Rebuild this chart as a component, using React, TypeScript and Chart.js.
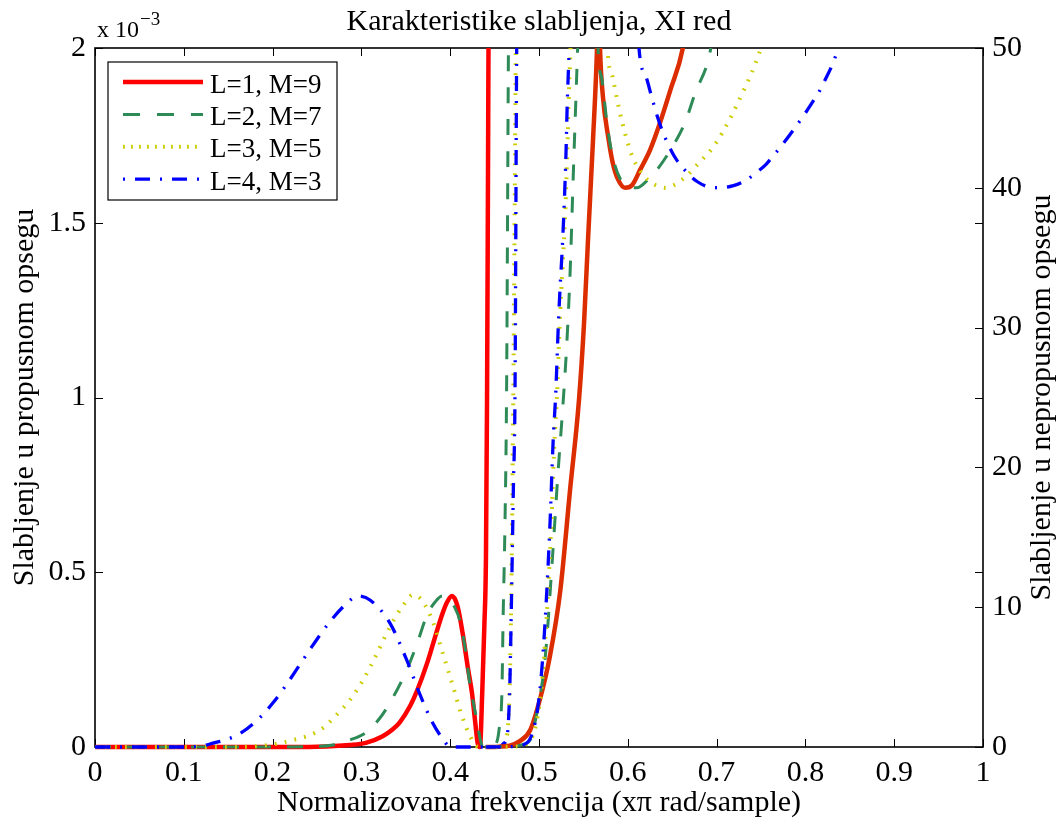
import React, { useEffect, useRef } from 'react';
import { Chart, registerables } from 'chart.js';

Chart.register(...registerables);

const FONT = '"Liberation Serif", "Times New Roman", Times, serif';

// ---- texts ----
const chartTitle = 'Karakteristike slabljenja, XI red';
const xTitle = 'Normalizovana frekvencija (x\u03c0 rad/sample)';
const yLeftTitle = 'Slabljenje u propusnom opsegu';
const yRightTitle = 'Slabljenje u nepropusnom opsegu';
const seriesLabels = ['L=1, M=9', 'L=2, M=7', 'L=3, M=5', 'L=4, M=3'];

// ---- ticks ----
const xTicks = [0, 0.1, 0.2, 0.3, 0.4, 0.5, 0.6, 0.7, 0.8, 0.9, 1];
const leftTicks = [0, 0.5, 1, 1.5, 2]; // x 10^-3
const rightTicks = [0, 10, 20, 30, 40, 50];

// ---- passband attenuation (x 10^-3), left axis ----
const redPassX = [0, 0.1, 0.2, 0.25, 0.287, 0.305, 0.324, 0.335, 0.343, 0.355, 0.363, 0.374, 0.381, 0.39, 0.396, 0.402, 0.408, 0.414, 0.42, 0.4245, 0.428, 0.431, 0.4335, 0.436, 0.4385, 0.4403, 0.4415, 0.4425, 0.4432, 0.445];
const redPassY = [0, 0, 0, 0.001, 0.006, 0.012, 0.031, 0.05, 0.07, 0.118, 0.163, 0.24, 0.298, 0.372, 0.412, 0.432, 0.405, 0.326, 0.225, 0.155, 0.075, 0.01, 0, 0.15, 0.35, 0.55, 1.0, 1.6, 2.05, 3];

const greenPassX = [0, 0.1, 0.2, 0.24, 0.268, 0.287, 0.306, 0.32, 0.332, 0.351, 0.363, 0.374, 0.383, 0.391, 0.398, 0.405, 0.411, 0.417, 0.422, 0.43, 0.434, 0.437, 0.45, 0.455, 0.4583, 0.4595, 0.4617, 0.4635, 0.4655, 0.467];
const greenPassY = [0, 0, 0, 0.001, 0.006, 0.02, 0.043, 0.08, 0.126, 0.22, 0.298, 0.378, 0.415, 0.432, 0.425, 0.4, 0.36, 0.28, 0.183, 0.077, 0.02, 0, 0.005, 0.049, 0.163, 0.355, 0.641, 1.02, 1.97, 2.6];

const yellowPassX = [0, 0.1, 0.15, 0.19, 0.208, 0.223, 0.239, 0.257, 0.272, 0.287, 0.302, 0.318, 0.332, 0.347, 0.358, 0.368, 0.381, 0.392, 0.403, 0.413, 0.426, 0.432, 0.458, 0.463, 0.466, 0.468, 0.4695, 0.471, 0.4725, 0.474, 0.476];
const yellowPassY = [0, 0, 0, 0.004, 0.011, 0.02, 0.031, 0.055, 0.092, 0.134, 0.192, 0.27, 0.343, 0.405, 0.435, 0.42, 0.355, 0.265, 0.175, 0.09, 0.014, 0, 0, 0.02, 0.1, 0.3, 0.6, 1.0, 1.5, 2.05, 2.6];

const bluePassX = [0, 0.1, 0.12, 0.133, 0.149, 0.163, 0.186, 0.2, 0.216, 0.231, 0.245, 0.265, 0.284, 0.296, 0.31, 0.332, 0.351, 0.366, 0.38, 0.392, 0.4, 0.456, 0.46, 0.464, 0.467, 0.4692, 0.4711, 0.473, 0.4748, 0.477];
const bluePassY = [0, 0, 0.003, 0.011, 0.022, 0.038, 0.085, 0.125, 0.18, 0.237, 0.29, 0.36, 0.412, 0.432, 0.42, 0.355, 0.249, 0.15, 0.07, 0.022, 0, 0, 0.01, 0.029, 0.163, 0.449, 0.735, 1.02, 1.97, 2.6];

// ---- stopband attenuation (dB), right axis; null = pole (off scale) ----
const redStopX = [0.44, 0.455, 0.467, 0.478, 0.49, 0.501, 0.512, 0.524, 0.535, 0.545, 0.5507, 0.5552, 0.5608, 0.5653, 0.5665, 0.567, 0.5677, 0.5687, 0.572, 0.578, 0.583, 0.589, 0.597, 0.605, 0.614, 0.625, 0.636, 0.648, 0.662, 0.67];
const redStopY = [0, 0.02, 0.1, 0.4, 1.2, 3.4, 6.4, 11.2, 18.4, 24.8, 30.3, 36.3, 43.4, 49.9, 53, null, 53, 50, 46.5, 43.6, 41.8, 40.6, 40.0, 40.2, 41.3, 42.7, 44.6, 47.0, 50, 53.5];

const greenStopX = [0.44, 0.47, 0.48, 0.49, 0.498, 0.507, 0.515, 0.5214, 0.527, 0.531, 0.535, 0.5387, 0.5435, 0.545, 0.55, 0.5655, 0.5665, 0.571, 0.5766, 0.582, 0.591, 0.602, 0.61, 0.623, 0.633, 0.648, 0.664, 0.676, 0.6926, 0.7];
const greenStopY = [0, 0.05, 0.15, 0.5, 2.6, 6.4, 13.4, 19.6, 24.5, 28.5, 33.9, 41.1, 50, 53, null, 53, 50, 47.7, 44.6, 42.5, 40.7, 40.1, 40.0, 40.6, 41.3, 42.7, 44.6, 46.8, 49.7, 53];

const yellowStopX = [0.44, 0.47, 0.488, 0.497, 0.5026, 0.5083, 0.5139, 0.5173, 0.5205, 0.5229, 0.5251, 0.5274, 0.5297, 0.5319, 0.5333, 0.5353, 0.537, 0.55, 0.5755, 0.577, 0.583, 0.588, 0.594, 0.6, 0.606, 0.614, 0.622, 0.631, 0.642, 0.655, 0.667, 0.676, 0.685, 0.696, 0.707, 0.718, 0.73, 0.74, 0.749, 0.752, 0.76];
const yellowStopY = [0, 0.03, 0.3, 1.7, 4.1, 8.9, 16.0, 21.7, 25.5, 29.6, 32.7, 35.3, 38.5, 42.5, 46.0, 49.6, 53, null, 53, 50, 47.9, 46.3, 44.6, 43.2, 42.1, 41.2, 40.6, 40.2, 40.0, 40.3, 40.9, 41.5, 42.1, 42.9, 44.0, 45.3, 46.9, 48.3, 49.8, 50.3, 52];

const blueStopX = [0.44, 0.47, 0.4865, 0.4955, 0.5011, 0.5068, 0.5124, 0.5158, 0.519, 0.5214, 0.5236, 0.5259, 0.5282, 0.5304, 0.5318, 0.5338, 0.5355, 0.54, 0.611, 0.6126, 0.6202, 0.6269, 0.6343, 0.64, 0.6494, 0.655, 0.668, 0.678, 0.689, 0.704, 0.719, 0.732, 0.743, 0.756, 0.764, 0.773, 0.786, 0.7995, 0.8108, 0.8157, 0.822, 0.8296, 0.8352, 0.84, 0.85];
const blueStopY = [0, 0.03, 0.3, 1.7, 4.1, 8.9, 16.0, 21.7, 25.5, 29.6, 32.7, 35.3, 38.5, 42.5, 46.0, 49.6, 53, null, 53, 50, 48.0, 46.5, 44.9, 43.9, 42.6, 42.0, 41.0, 40.45, 40.1, 40.0, 40.15, 40.5, 41.0, 41.7, 42.3, 43.0, 44.1, 45.3, 46.4, 46.9, 47.7, 48.7, 49.6, 50.3, 52];

// ---- styles ----
const passColors = ['#ff0000', '#2e8b57', '#cccc00', '#0000ff'];
const stopColors = ['#dc2d00', '#2e8b57', '#cccc00', '#0000ff'];
const lineWidths = [4.5, 3, 4, 3.3];
const lineDashes = [[], [16, 16], [1.8, 8.2], [15, 10, 2, 10]];
const legendDashes = [[], [17, 17], [1.8, 6.2], [2, 10, 15, 10]];

const pts = (xs: number[], ys: (number | null)[]) => xs.map((x, i) => ({ x, y: ys[i] }));

const passData = [
  pts(redPassX, redPassY),
  pts(greenPassX, greenPassY),
  pts(yellowPassX, yellowPassY),
  pts(bluePassX, bluePassY),
];
const stopData = [
  pts(redStopX, redStopY),
  pts(greenStopX, greenStopY),
  pts(yellowStopX, yellowStopY),
  pts(blueStopX, blueStopY),
];

const fmt = (v: number) => String(Math.round(v * 100) / 100);

const matlabPlugin = {
  id: 'matlabAxes',
  beforeDatasetsDraw(chart: any) {
    const { ctx, chartArea: a, scales } = chart;
    const T = 8;
    ctx.save();
    ctx.strokeStyle = '#000';
    ctx.lineWidth = 1;
    ctx.setLineDash([]);
    ctx.beginPath();
    xTicks.forEach((v) => {
      const p = Math.round(scales.x.getPixelForValue(v)) + 0.5;
      ctx.moveTo(p, a.bottom);
      ctx.lineTo(p, a.bottom - T);
      ctx.moveTo(p, a.top);
      ctx.lineTo(p, a.top + T);
    });
    leftTicks.forEach((v) => {
      const p = Math.round(scales.y.getPixelForValue(v)) + 0.5;
      ctx.moveTo(a.left, p);
      ctx.lineTo(a.left + T, p);
      ctx.moveTo(a.right, p);
      ctx.lineTo(a.right - T, p);
    });
    rightTicks.forEach((v) => {
      const p = Math.round(scales.y2.getPixelForValue(v)) + 0.5;
      ctx.moveTo(a.right, p);
      ctx.lineTo(a.right - T, p);
    });
    ctx.stroke();
    ctx.lineWidth = 1.6;
    ctx.strokeRect(a.left, a.top, a.right - a.left, a.bottom - a.top);
    ctx.restore();
  },
  afterDatasetsDraw(chart: any) {
    const { ctx, chartArea: a } = chart;
    const lx = a.left + 13;
    const ly = a.top + 14;
    const lw = 229;
    const lh = 138;
    ctx.save();
    ctx.fillStyle = '#fff';
    ctx.fillRect(lx, ly, lw, lh);
    ctx.strokeStyle = '#000';
    ctx.lineWidth = 1.2;
    ctx.setLineDash([]);
    ctx.strokeRect(lx, ly, lw, lh);
    seriesLabels.forEach((lab, i) => {
      const y = ly + 20 + i * 32.4;
      ctx.beginPath();
      ctx.setLineDash(legendDashes[i]);
      ctx.lineWidth = lineWidths[i];
      ctx.strokeStyle = passColors[i];
      ctx.lineCap = 'butt';
      ctx.moveTo(lx + 15, y);
      ctx.lineTo(lx + 95, y);
      ctx.stroke();
      ctx.setLineDash([]);
      ctx.fillStyle = '#000';
      ctx.font = `27px ${FONT}`;
      ctx.textAlign = 'left';
      ctx.textBaseline = 'alphabetic';
      ctx.fillText(lab, lx + 102, y + 10.5);
    });
    ctx.restore();
  },
  afterDraw(chart: any) {
    const { ctx, chartArea: a } = chart;
    ctx.save();
    ctx.fillStyle = '#000';
    // right axis title, reading bottom-to-top
    ctx.translate(1042.5, (a.top + a.bottom) / 2);
    ctx.rotate(-Math.PI / 2);
    ctx.font = `30px ${FONT}`;
    ctx.textAlign = 'center';
    ctx.textBaseline = 'middle';
    ctx.fillText(yRightTitle, 0, 0);
    ctx.restore();
    // exponent label
    ctx.save();
    ctx.fillStyle = '#000';
    ctx.font = `24px ${FONT}`;
    ctx.textAlign = 'left';
    ctx.textBaseline = 'alphabetic';
    const base = 'x 10';
    ctx.fillText(base, a.left + 2, 37);
    const w = ctx.measureText(base).width;
    ctx.font = `19px ${FONT}`;
    ctx.fillText('\u22123', a.left + 2 + w + 1, 25);
    ctx.restore();
  },
};

export default function App() {
  const ref = useRef<HTMLCanvasElement | null>(null);

  useEffect(() => {
    document.body.style.margin = '0';
    const canvas = ref.current;
    if (!canvas) return;

    const datasets: any[] = [];
    passData.forEach((d, i) => {
      datasets.push({
        label: seriesLabels[i],
        data: d,
        yAxisID: 'y',
        borderColor: passColors[i],
        backgroundColor: passColors[i],
        borderWidth: lineWidths[i],
        borderDash: lineDashes[i],
        borderCapStyle: 'butt',
        pointRadius: 0,
        pointHoverRadius: 0,
        cubicInterpolationMode: 'monotone',
        spanGaps: false,
        fill: false,
        clip: { left: 0, top: 0, right: 0, bottom: 4 },
        order: 8 - i,
      });
    });
    stopData.forEach((d, i) => {
      datasets.push({
        label: seriesLabels[i],
        data: d,
        yAxisID: 'y2',
        borderColor: stopColors[i],
        backgroundColor: stopColors[i],
        borderWidth: lineWidths[i],
        borderDash: lineDashes[i],
        borderCapStyle: 'butt',
        pointRadius: 0,
        pointHoverRadius: 0,
        cubicInterpolationMode: 'monotone',
        spanGaps: false,
        fill: false,
        clip: { left: 0, top: 0, right: 0, bottom: 4 },
        order: 4 - i,
      });
    });

    const tickFont = { family: FONT, size: 30 };
    const titleFont = { family: FONT, size: 30, weight: 'normal' as const };

    const chart = new Chart(canvas, {
      type: 'line',
      data: { datasets },
      options: {
        responsive: false,
        animation: false,
        devicePixelRatio: 1,
        events: [],
        layout: { padding: 0 },
        plugins: {
          legend: { display: false },
          tooltip: { enabled: false },
          title: {
            display: true,
            fullSize: false,
            text: chartTitle,
            color: '#000',
            font: titleFont,
            padding: { top: 4, bottom: 8 },
          },
        },
        scales: {
          x: {
            type: 'linear',
            min: 0,
            max: 1,
            afterBuildTicks: (s: any) => {
              s.ticks = xTicks.map((v) => ({ value: v }));
            },
            afterFit: (s: any) => {
              s.height = 78;
            },
            ticks: {
              color: '#000',
              font: tickFont,
              padding: 8,
              maxRotation: 0,
              autoSkip: false,
              callback: (v: any) => fmt(Number(v)),
            },
            grid: { display: false, drawTicks: false },
            border: { display: false },
            title: {
              display: true,
              text: xTitle,
              color: '#000',
              font: titleFont,
              padding: { top: 0, bottom: 4 },
            },
          },
          y: {
            type: 'linear',
            position: 'left',
            min: 0,
            max: 2,
            afterBuildTicks: (s: any) => {
              s.ticks = leftTicks.map((v) => ({ value: v }));
            },
            afterFit: (s: any) => {
              s.width = 95;
            },
            ticks: {
              color: '#000',
              font: tickFont,
              padding: 9,
              autoSkip: false,
              callback: (v: any) => fmt(Number(v)),
            },
            grid: { display: false, drawTicks: false },
            border: { display: false },
            title: {
              display: true,
              text: yLeftTitle,
              color: '#000',
              font: titleFont,
              padding: { top: 7, bottom: 0 },
            },
          },
          y2: {
            type: 'linear',
            position: 'right',
            min: 0,
            max: 50,
            afterBuildTicks: (s: any) => {
              s.ticks = rightTicks.map((v) => ({ value: v }));
            },
            afterFit: (s: any) => {
              s.width = 81;
            },
            ticks: {
              color: '#000',
              font: tickFont,
              padding: 9,
              autoSkip: false,
              callback: (v: any) => fmt(Number(v)),
            },
            grid: { display: false, drawTicks: false },
            border: { display: false },
          },
        },
      },
      plugins: [matlabPlugin],
    } as any);

    return () => {
      chart.destroy();
    };
  }, []);

  return (
    <div style={{ position: 'absolute', left: 0, top: 0, width: 1064, height: 825, background: '#fff' }}>
      <canvas ref={ref} width={1064} height={825} style={{ display: 'block', width: 1064, height: 825 }} />
    </div>
  );
}
